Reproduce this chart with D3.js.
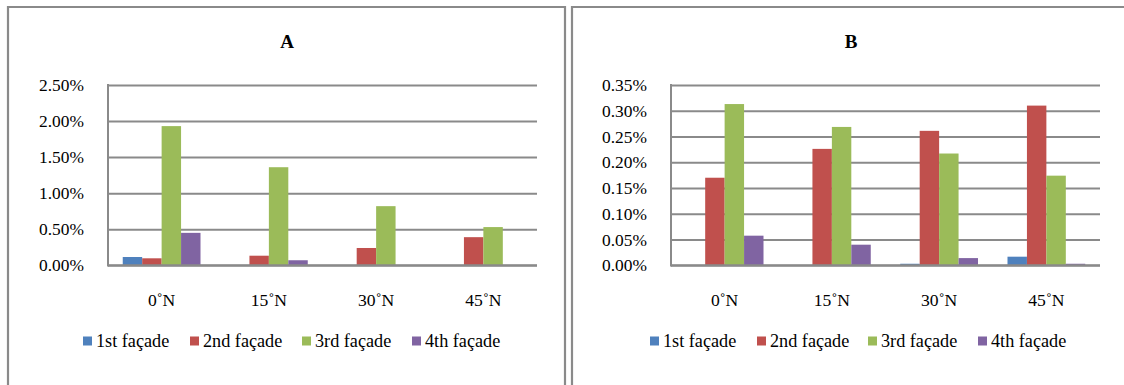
<!DOCTYPE html>
<html><head><meta charset="utf-8">
<script src="https://cdn.jsdelivr.net/npm/d3@7"></script>
<style>
body{margin:0;background:#fff;}
svg{display:block;}
svg text{font-family:"Liberation Serif","Tinos","Times New Roman","DejaVu Serif",serif;}
</style>
</head><body>
<svg id="c" width="1124" height="385"></svg>
<script>
const categories = ["0˚N", "15˚N", "30˚N", "45˚N"];
const seriesNames = ["1st façade", "2nd façade", "3rd façade", "4th façade"];
const colors = ["#4f81bd", "#c0504d", "#9bbb59", "#8064a2"];
// values in percent, per category: [1st, 2nd, 3rd, 4th]
const valuesA = [
  [0.115, 0.097, 1.93, 0.45],
  [0, 0.133, 1.36, 0.07],
  [0, 0.24, 0.82, 0],
  [0, 0.39, 0.53, 0]
];
const valuesB = [
  [-0.001, 0.170, 0.313, 0.0575],
  [0, 0.226, 0.2686, 0.040],
  [0.003, 0.261, 0.217, 0.014],
  [0.0167, 0.310, 0.174, 0.003]
];
const ticksA = [0, 0.5, 1.0, 1.5, 2.0, 2.5];
const ticksB = [0, 0.05, 0.10, 0.15, 0.20, 0.25, 0.30, 0.35];

const svg = d3.select("#c");
const border = "#8a8a8a";

// partially visible caption text at top (cut off in the reference too)
svg.append("text").attr("x", 718).attr("y", -7)
  .attr("font-size", 22).attr("fill", "#111")
  .text("Figure (...)");

function panel(opt) {
  const g = svg.append("g");
  g.append("path")
    .attr("d", `M${opt.bx0},385 V7 H${opt.bx1}` + (opt.rightEdge ? ` V385` : ""))
    .attr("fill", "none").attr("stroke", border).attr("stroke-width", 2.2);

  g.append("text").attr("x", opt.titleX).attr("y", 48)
    .attr("text-anchor", "middle")
    .attr("font-weight", "bold").attr("font-size", 19).attr("fill", "#000")
    .text(opt.title);

  const x0 = d3.scaleBand().domain(categories).range([opt.left, opt.right]).padding(0);
  const inner = x0.bandwidth() * 0.725;
  const x1 = d3.scaleBand().domain(seriesNames)
    .range([(x0.bandwidth() - inner) / 2, (x0.bandwidth() + inner) / 2]).padding(0);
  const y = d3.scaleLinear().domain([0, opt.max]).range([265.3, 85]);

  const yAxis = d3.axisLeft(y).tickValues(opt.ticks)
    .tickSize(-(opt.right - opt.left)).tickPadding(24)
    .tickFormat(d => d.toFixed(2) + "%");
  const ga = g.append("g").attr("transform", `translate(${opt.left},0)`).call(yAxis)
    .attr("font-family", null);
  ga.select(".domain").remove();
  ga.selectAll(".tick line").attr("stroke", border).attr("stroke-width", 2);
  ga.selectAll(".tick text").attr("font-size", 17.4).attr("fill", "#000");

  const groups = g.append("g").selectAll("g").data(opt.values).join("g")
    .attr("transform", (d, i) => `translate(${x0(categories[i])},0)`);
  groups.selectAll("rect").data(d => d.map((v, j) => ({v, j}))).join("rect")
    .attr("x", d => x1(seriesNames[d.j]))
    .attr("width", x1.bandwidth())
    .attr("y", d => Math.min(y(d.v), y(0)))
    .attr("height", d => Math.abs(y(d.v) - y(0)))
    .attr("fill", d => colors[d.j]);

  g.append("line").attr("x1", opt.left).attr("x2", opt.left).attr("y1", 84).attr("y2", 266.5)
    .attr("stroke", border).attr("stroke-width", 2);
  g.append("line").attr("x1", opt.left).attr("x2", opt.right).attr("y1", y(0)).attr("y2", y(0))
    .attr("stroke", border).attr("stroke-width", 2);

  const xAxis = d3.axisBottom(x0).tickSize(0).tickPadding(0);
  const gx = g.append("g").attr("transform", `translate(0,293.5)`).call(xAxis)
    .attr("font-family", null);
  gx.select(".domain").remove();
  gx.selectAll(".tick text").attr("font-size", 17.6).attr("fill", "#000")
    .attr("dy", "0.71em");

  const lg = g.append("g").selectAll("g").data(seriesNames).join("g")
    .attr("transform", (d, i) => `translate(${opt.legendX[i]},341)`);
  lg.append("rect").attr("x", 0).attr("y", -4.5).attr("width", 9).attr("height", 9)
    .attr("fill", (d, i) => colors[i]);
  lg.append("text").attr("x", 13).attr("y", 0).attr("dy", "0.35em")
    .attr("font-size", 18.2).attr("fill", "#000").text(d => d);
}

panel({ bx0: 8, bx1: 565, rightEdge: true, title: "A", titleX: 287,
  left: 108, right: 537, max: 2.5, ticks: ticksA, values: valuesA,
  legendX: [83, 190, 302, 412] });
panel({ bx0: 572, bx1: 1124, rightEdge: false, title: "B", titleX: 851,
  left: 671, right: 1100, max: 0.35, ticks: ticksB, values: valuesB,
  legendX: [650, 757, 868, 978] });
</script>
</body></html>
